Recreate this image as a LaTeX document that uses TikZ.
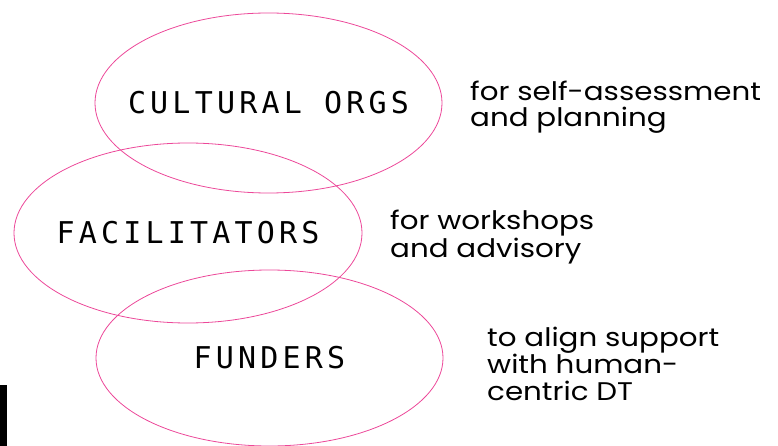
\documentclass[tikz,border=0pt]{standalone}
\usepackage{fontspec}
\setmainfont{Poppins}[FakeStretch=1.15]
\newfontfamily\pixfont[LetterSpace=14]{DejaVu Sans Mono}
\definecolor{ringpink}{HTML}{EC4899}
\tikzset{
  ring/.style={draw=ringpink, line width=0.8pt},
  tag/.style={font=\pixfont\fontsize{30}{30}\selectfont, inner sep=0pt, text=black},
  note/.style={align=left, anchor=base west, inner sep=0pt, text=black}
}
\begin{document}
\begin{tikzpicture}[x=1pt,y=-1pt]
\useasboundingbox (0,0) rectangle (778,446);
\fill[black] (0,385) rectangle (7,446);
\coordinate (c1) at (268.5,103);
\coordinate (c2) at (188,233);
\coordinate (c3) at (269.5,358);
\draw[ring] (c1) ellipse [x radius=173.5, y radius=90];
\draw[ring] (c2) ellipse [x radius=174, y radius=90];
\draw[ring] (c3) ellipse [x radius=173.5, y radius=88];
\node[tag] (orgs) at (c1) {CULTURAL ORGS};
\node[tag] (fac) at (c2) {FACILITATORS};
\node[tag] (fund) at (c3) {FUNDERS};
\node[note, font=\fontsize{25.5}{26}\selectfont] (n1) at (470,127) {for self-assessment\\and planning};
\node[note, font=\fontsize{25.5}{25}\selectfont] (n2) at (390,257) {for workshops\\and advisory};
\node[note, font=\fontsize{25.5}{27}\selectfont] (n3) at (487,400) {to align support\\with human-\\centric DT};
\end{tikzpicture}
\end{document}
